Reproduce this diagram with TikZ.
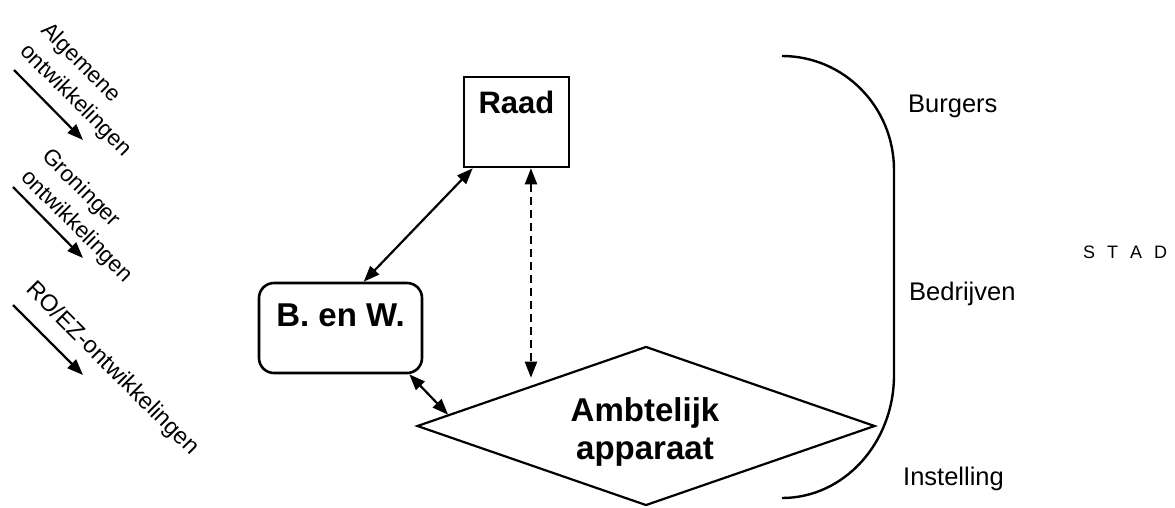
\documentclass[tikz,border=0pt]{standalone}
\usepackage{fontspec}
\setmainfont{Liberation Sans}
\usetikzlibrary{shapes.geometric,arrows.meta,calc}
\begin{document}
\begin{tikzpicture}[x=1pt,y=-1pt,
  tip/.style={-{Triangle[length=16pt,width=12pt]}},
  both/.style={{Triangle[length=16pt,width=12pt]}-{Triangle[length=16pt,width=12pt]}},
  conn/.style={line width=2.2pt},
  box/.style={draw, line width=2.6pt, inner sep=0pt, anchor=base, font=\fontsize{31}{36}\selectfont\bfseries},
  side/.style={font=\fontsize{22.5}{30}\selectfont, rotate=-45, align=left, inner sep=0pt},
  group/.style={font=\fontsize{25.5}{30}\selectfont, anchor=base west, inner sep=0pt}]
\useasboundingbox (0,0) rectangle (1175,507);

% boxes
\node[box, minimum width=105pt, text height=36pt, text depth=54pt] (raad) at (516.5,113) {Raad};
\node[box, minimum width=163pt, text height=43pt, text depth=47pt, rounded corners=15pt,
      font=\fontsize{33}{38}\selectfont\bfseries] (benw) at (340.5,326) {B. en W.};
\node[draw, diamond, line width=2.2pt, minimum width=458pt, minimum height=159pt, inner sep=0pt] (amb) at (646,426) {};
\node[font=\fontsize{33}{38}\selectfont\bfseries, align=center, inner sep=0pt] (ambtxt) at (645,432) {Ambtelijk\\apparaat};

% connectors
\draw[conn, both] ($(raad.south west)+(10,0)$) -- ($(benw.north west)+(106,0)$);
\draw[conn, both, dash pattern=on 8pt off 5pt, shorten >=8pt] (amb.north west |- raad.south) -- (amb.north west);
\draw[conn, both] ($(benw.south east)+(-14,0)$) -- ($(amb.west)!0.14!(amb.north)$);

% left arrows and labels
\coordinate (a1s) at (14,70);  \coordinate (a1e) at (83,140);
\coordinate (a2s) at (13,187); \coordinate (a2e) at (83,258);
\coordinate (a3s) at (13,305); \coordinate (a3e) at (83,375);
\draw[conn, tip] (a1s) -- (a1e);
\draw[conn, tip] (a2s) -- (a2e);
\draw[conn, tip] (a3s) -- (a3e);
\node[side] (alg) at (86,90) {Algemene\\ontwikkelingen};
\node[side] (gro) at (87,216) {Groninger\\ontwikkelingen};
\node[side, font=\fontsize{23.5}{30}\selectfont] (ro) at (112,369) {RO/EZ-ontwikkelingen};

% bracket
\draw[line width=2.4pt] (782,56) .. controls (844,56) and (894,107) .. (894,170) -- (894,375)
  .. controls (894,443) and (844,498) .. (782,498);

% right labels
\node[group] (burg) at (908,112) {Burgers};
\node[group] (bedr) at (909,300) {Bedrijven};
\node[group] (inst) at (903,485) {Instelling};
\node[anchor=base west, inner sep=0pt, font=\fontsize{18}{20}\selectfont] (stad) at (1083,258) {\spaceskip=12pt\relax S T A D};
\end{tikzpicture}
\end{document}
